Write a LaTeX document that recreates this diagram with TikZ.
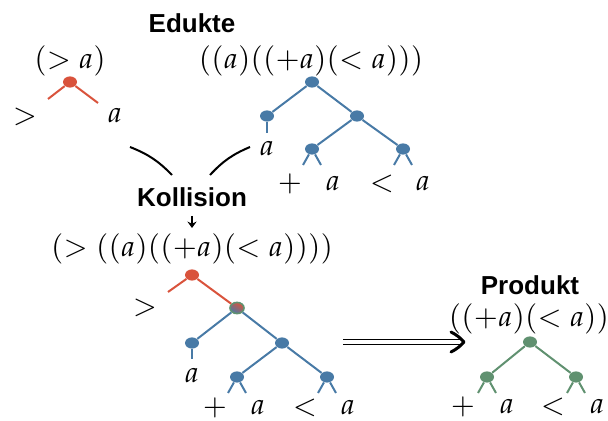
\documentclass[tikz,border=0pt]{standalone}
\usepackage{mathpazo}
\usepackage{fontspec}
\newfontfamily\headfont{Liberation Sans}
\usepackage{tikz}
\usetikzlibrary{
	arrows.meta,
	shapes.geometric,
	positioning
}
\definecolor{rot}{RGB}{217,83,60}
\definecolor{blau}{RGB}{72,122,166}
\definecolor{gruen}{RGB}{96,145,112}
\tikzset{
	knoten/.style={ellipse,minimum width=7pt,minimum height=5.6pt,inner sep=0pt},
	kante/.style={line width=1pt},
	formel/.style={font=\fontsize{14.6}{17}\selectfont,inner sep=0pt},
	titel/.style={font=\fontsize{13}{15}\headfont\bfseries,inner sep=0pt}
}

\begin{document}
\begin{tikzpicture}[x=0.5pt,y=-0.5pt]
		\useasboundingbox (0,0) rectangle (608,421);
		% Edukte
		\node[titel] (edukte) at (192,23) {Edukte};
		\node[formel] (f1) at (70,61) {$(>a)$};
		\node[formel] (f2) at (311,61) {$((a)((+a)(<a)))$};
		% Baum (> a)
		\node[knoten,fill=rot] (r1) at (70,82) {};
		\coordinate (r1l) at (48,99);
		\coordinate (r1r) at (98,103);
		\draw[kante,rot] (r1) -- (r1l); \draw[kante,rot] (r1) -- (r1r);
		\node[formel] (gt1) at (25,117) {$>$};
		\node[formel] (a1) at (115,116) {$a$};
		% Baum ((a)((+a)(< a)))
		\node[knoten,fill=blau] (b0) at (312,82) {};
		\node[knoten,fill=blau] (b1) at (267,116) {};
		\node[knoten,fill=blau] (b2) at (357,116) {};
		\node[knoten,fill=blau] (b3) at (312,149) {};
		\node[knoten,fill=blau] (b4) at (403,149) {};
		\coordinate (b1u) at (267,133);
		\coordinate (b3l) at (303,165); \coordinate (b3r) at (321,165);
		\coordinate (b4l) at (394,165); \coordinate (b4r) at (412,165);
		\draw[kante,blau] (b0) -- (b1); \draw[kante,blau] (b0) -- (b2);
		\draw[kante,blau] (b2) -- (b3); \draw[kante,blau] (b2) -- (b4);
		\draw[kante,blau] (b1) -- (b1u);
		\draw[kante,blau] (b3) -- (b3l); \draw[kante,blau] (b3) -- (b3r);
		\draw[kante,blau] (b4) -- (b4l); \draw[kante,blau] (b4) -- (b4r);
		\node[formel] (a2) at (267,149) {$a$};
		\node[formel] (p2) at (290,184) {$+$};
		\node[formel] (a3) at (333,184) {$a$};
		\node[formel] (lt2) at (382,184) {$<$};
		\node[formel] (a4) at (423,184) {$a$};
		% Kollision
		\node[titel] (koll) at (192,197) {Kollision};
		\coordinate (k1a) at (130,147); \coordinate (k1b) at (172,175);
		\coordinate (k2a) at (250,147); \coordinate (k2b) at (210,175);
		\draw[line width=1pt] (k1a) to[bend left=12] (k1b);
		\draw[line width=1pt] (k2a) to[bend right=12] (k2b);
		\coordinate (pf) at (192,228);
		\draw[line width=0.7pt,-{Stealth[length=3.2pt,width=4.6pt]}] (192,216) -- (pf);
		\node[formel] (f3) at (192,249) {$(>((a)((+a)(<a))))$};
		% Baum nach der Kollision
		\node[knoten,fill=rot] (c0) at (192,275) {};
		\node[knoten,left color=rot,right color=blau,shading angle=-30,draw=gruen,line width=0.8pt] (c1) at (237,308) {};
		\node[knoten,fill=blau] (c2) at (192,343) {};
		\node[knoten,fill=blau] (c3) at (282,343) {};
		\node[knoten,fill=blau] (c4) at (237,377) {};
		\node[knoten,fill=blau] (c5) at (327,377) {};
		\coordinate (c0l) at (168,292);
		\coordinate (c2u) at (192,359);
		\coordinate (c4l) at (228,393); \coordinate (c4r) at (246,393);
		\coordinate (c5l) at (318,393); \coordinate (c5r) at (336,393);
		\draw[kante,rot] (c0) -- (c0l); \draw[kante,rot] (c0) -- (c1);
		\draw[kante,blau] (c1) -- (c2); \draw[kante,blau] (c1) -- (c3);
		\draw[kante,blau] (c3) -- (c4); \draw[kante,blau] (c3) -- (c5);
		\draw[kante,blau] (c2) -- (c2u);
		\draw[kante,blau] (c4) -- (c4l); \draw[kante,blau] (c4) -- (c4r);
		\draw[kante,blau] (c5) -- (c5l); \draw[kante,blau] (c5) -- (c5r);
		\node[formel] (gt3) at (145,308) {$>$};
		\node[formel] (a5) at (192,376) {$a$};
		\node[formel] (p3) at (215,408) {$+$};
		\node[formel] (a6) at (258,408) {$a$};
		\node[formel] (lt3) at (305,408) {$<$};
		\node[formel] (a7) at (348,408) {$a$};
		% Reaktionspfeil
		\coordinate (pa) at (343,342); \coordinate (pb) at (460,342);
		\coordinate (pspitze) at (464,342);
		\draw[double,double distance=1.8pt,line width=0.8pt] (pa) -- (pb);
		\draw[line width=1.5pt,line join=round,line cap=round] (451,332) to[bend left=10] (pspitze) to[bend left=10] (451,352);
		% Produkt
		\node[titel] (prod) at (530,285) {Produkt};
		\node[formel] (f4) at (529,319) {$((+a)(<a))$};
		\node[knoten,fill=gruen] (g0) at (530,342) {};
		\node[knoten,fill=gruen] (g1) at (487,377) {};
		\node[knoten,fill=gruen] (g2) at (576,377) {};
		\coordinate (g1l) at (478,393); \coordinate (g1r) at (496,393);
		\coordinate (g2l) at (567,393); \coordinate (g2r) at (585,393);
		\draw[kante,gruen] (g0) -- (g1); \draw[kante,gruen] (g0) -- (g2);
		\draw[kante,gruen] (g1) -- (g1l); \draw[kante,gruen] (g1) -- (g1r);
		\draw[kante,gruen] (g2) -- (g2l); \draw[kante,gruen] (g2) -- (g2r);
		\node[formel] (p4) at (463,407) {$+$};
		\node[formel] (a8) at (507,407) {$a$};
		\node[formel] (lt4) at (553,407) {$<$};
		\node[formel] (a9) at (597,407) {$a$};
	\end{tikzpicture}
\end{document}
